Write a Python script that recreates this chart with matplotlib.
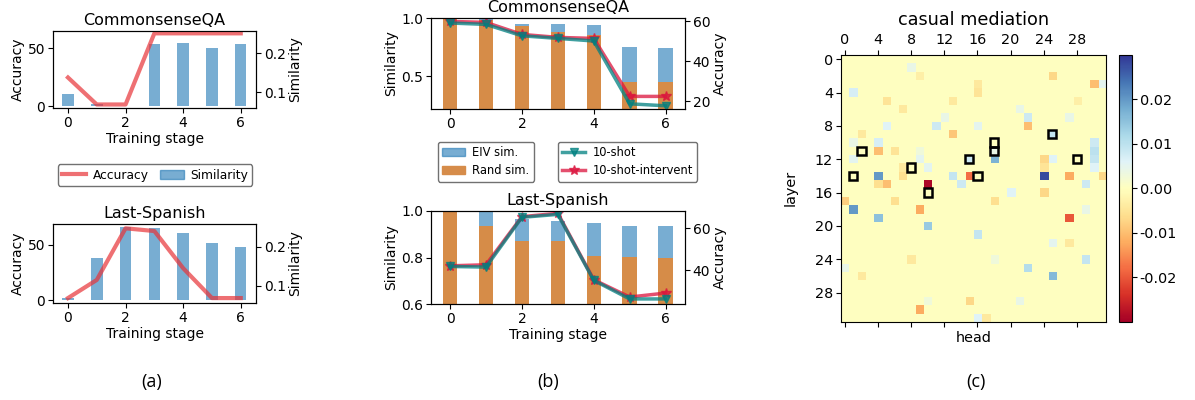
import matplotlib
matplotlib.use("Agg")
import matplotlib.pyplot as plt
import numpy as np
from matplotlib.lines import Line2D
from matplotlib.patches import Patch, Rectangle

# ---- data ----
stages = [0, 1, 2, 3, 4, 5, 6]

# panel (a): bars on left axis, line on right axis
a_csqa_bars = [10.6, 2.3, 0.0, 53.4, 54.3, 50.6, 53.4]
a_csqa_line = [0.138, 0.069, 0.069, 0.251, 0.251, 0.251, 0.251]
a_span_bars = [2.1, 38.6, 65.9, 65.0, 61.0, 52.0, 48.5]
a_span_line = [0.0686, 0.115, 0.247, 0.240, 0.145, 0.0686, 0.0686]

# panel (b)
b_csqa_eiv = [1.0, 0.99, 0.951, 0.949, 0.937, 0.751, 0.743]
b_csqa_rand = [1.0, 0.98, 0.93, 0.877, 0.851, 0.449, 0.449]
b_csqa_shot = [59.2, 58.5, 52.8, 51.5, 50.2, 18.8, 17.8]
b_csqa_int = [60.0, 59.5, 53.5, 52.0, 51.5, 22.5, 22.5]
b_span_eiv = [1.0, 1.0, 0.964, 0.959, 0.947, 0.937, 0.937]
b_span_rand = [1.0, 0.937, 0.873, 0.873, 0.807, 0.801, 0.80]
b_span_shot = [41.9, 41.6, 65.2, 66.6, 35.3, 26.5, 26.5]
b_span_int = [42.2, 42.7, 65.5, 67.1, 35.6, 27.4, 29.3]

# panel (c): 32x32 layer/head map, listed non-zero cells
cell_rows = [15, 14, 14, 14, 14, 12, 14, 15, 11, 10, 9, 8, 8, 4, 8, 7, 2, 15, 15, 16,
             15, 16, 3, 3, 10, 11, 12, 13, 14, 12, 12, 13, 12, 9, 4, 8, 1, 17, 18, 19,
             18, 20, 19, 21, 25, 26, 24, 30, 31, 31, 29, 29, 29, 22, 22, 24, 17, 17, 25, 26,
             24, 18, 12, 13, 14, 13, 11, 5, 5, 6, 7, 3, 2, 6, 9, 10, 11, 12, 7, 5, 11]
cell_cols = [10, 24, 4, 15, 27, 18, 13, 14, 4, 4, 13, 11, 5, 1, 22, 22, 25, 5, 4, 24,
             29, 20, 30, 31, 30, 30, 30, 30, 31, 25, 24, 24, 15, 25, 16, 16, 8, 0, 1, 4,
             9, 10, 27, 16, 22, 25, 29, 9, 16, 17, 15, 21, 10, 25, 27, 18, 6, 18, 0, 2,
             8, 29, 9, 7, 7, 10, 9, 5, 13, 21, 12, 16, 9, 7, 2, 1, 6, 1, 27, 28, 18]
cell_vals = [-0.029, 0.028, 0.020, -0.018, -0.012, 0.017, 0.009, 0.008, -0.010, 0.007,
             -0.009, 0.008, 0.006, 0.007, -0.010, 0.008, -0.007, -0.010, -0.006, -0.007,
             0.008, 0.006, -0.010, 0.005, 0.008, 0.010, 0.009, 0.006, -0.007, 0.006,
             -0.007, -0.005, 0.008, 0.009, -0.005, 0.005, 0.004, -0.008, 0.020, 0.015,
             -0.012, 0.014, -0.020, 0.009, 0.011, 0.016, 0.009, -0.012, 0.006, -0.004,
             -0.007, 0.004, 0.003, 0.005, -0.004, 0.003, -0.006, -0.006, 0.004, -0.004,
             -0.004, 0.004, 0.005, -0.004, -0.006, 0.005, 0.003, -0.005, -0.004, 0.004,
             0.004, -0.004, -0.003, -0.004, -0.004, 0.004, -0.005, 0.005, 0.004, -0.003, 0.004]
box_rows = [11, 14, 13, 16, 12, 14, 10, 11, 9, 12]
box_cols = [2, 1, 8, 10, 15, 16, 18, 18, 25, 28]

W, H = 1195, 400


def px_axes(x0, y0, x1, y1):
    return fig.add_axes([x0 / W, 1 - y1 / H, (x1 - x0) / W, (y1 - y0) / H])


fig = plt.figure(figsize=(11.95, 4.0), dpi=100)

# ---- panel (a) ----
red_a = (0.91, 0.2, 0.22, 0.7)


def panel_a(pos, title, bars, line, ylim, ylim2, xlabel=True):
    ax = px_axes(*pos)
    ax.bar(stages, bars, width=0.4, color="tab:blue", alpha=0.6)
    ax.set_ylim(*ylim)
    ax.set_xlim(-0.52, 6.53)
    ax.set_xticks([0, 2, 4, 6])
    ax.set_yticks([0, 50])
    ax.set_ylabel("Accuracy", fontsize=10, labelpad=2)
    ax.tick_params(labelsize=10, length=3.5, pad=2)
    if xlabel:
        ax.set_xlabel("Training stage", fontsize=10, labelpad=2)
    ax.set_title(title, fontsize=11.5, pad=4)
    ax2 = ax.twinx()
    ax2.plot(stages, line, color=red_a, lw=3)
    ax2.set_ylim(*ylim2)
    ax2.set_yticks([0.1, 0.2])
    ax2.set_ylabel("Similarity", fontsize=10, labelpad=2)
    ax2.tick_params(labelsize=10, length=3.5, pad=2)
    return ax


panel_a((53, 31, 256, 108), "CommonsenseQA", a_csqa_bars, a_csqa_line, (-1.4, 64.9), (0.060, 0.257))
panel_a((53, 224, 256, 303), "Last-Spanish", a_span_bars, a_span_line, (-2.4, 68.9), (0.056, 0.258))

fig.legend([Line2D([0], [0], color=red_a, lw=3), Patch(color="tab:blue", alpha=0.6)],
           ["Accuracy", "Similarity"], loc="center", bbox_to_anchor=(155 / W, 1 - 175 / H),
           ncol=2, fontsize=8.8, edgecolor="0.3", handlelength=2.0, columnspacing=0.9,
           borderpad=0.35, handletextpad=0.5)

# ---- panel (b) ----
teal = (0.0, 0.5, 0.5, 0.75)
red_b = (0.86, 0.08, 0.24, 0.75)


def panel_b(pos, title, eiv, rand, shot, inter, ylim, yticks, ylim2, yticks2, xlabel=False):
    ax = px_axes(*pos)
    ax.bar(stages, eiv, width=0.4, color="tab:blue", alpha=0.6)
    ax.bar(stages, rand, width=0.4, color="tab:orange", alpha=0.7)
    ax.set_ylim(*ylim)
    ax.set_yticks(yticks)
    ax.set_xlim(-0.53, 6.54)
    ax.set_xticks([0, 2, 4, 6])
    ax.set_ylabel("Similarity", fontsize=10, labelpad=2)
    ax.tick_params(labelsize=10, length=3.5, pad=2)
    if xlabel:
        ax.set_xlabel("Training stage", fontsize=10, labelpad=2)
    ax.set_title(title, fontsize=11.5, pad=4.5)
    ax2 = ax.twinx()
    ax2.plot(stages, inter, color=red_b, lw=2.5, marker="*", ms=7)
    ax2.plot(stages, shot, color=teal, lw=2.5, marker="v", ms=6)
    ax2.set_ylim(*ylim2)
    ax2.set_yticks(yticks2)
    ax2.set_ylabel("Accuracy", fontsize=10, labelpad=2)
    ax2.tick_params(labelsize=10, length=3.5, pad=2)


panel_b((431, 18, 685, 109), "CommonsenseQA", b_csqa_eiv, b_csqa_rand, b_csqa_shot, b_csqa_int,
        (0.22, 1.0), [0.5, 1.0], (16.2, 61.7), [20, 40, 60])
panel_b((431, 211, 685, 304), "Last-Spanish", b_span_eiv, b_span_rand, b_span_shot, b_span_int,
        (0.6, 1.0), [0.6, 0.8, 1.0], (24.1, 68.2), [40, 60], xlabel=True)

fig.legend([Patch(color="tab:blue", alpha=0.6), Patch(color=(0.84, 0.55, 0.29))],
           ["EIV sim.", "Rand sim."], loc="upper left", bbox_to_anchor=(432 / W, 1 - 136 / H),
           fontsize=8.3, edgecolor="0.3", borderpad=0.4, handletextpad=0.6, labelspacing=0.4)
fig.legend([Line2D([0], [0], color=teal, lw=2.5, marker="v", ms=6),
            Line2D([0], [0], color=red_b, lw=2.5, marker="*", ms=7)],
           ["10-shot", "10-shot-intervent"], loc="upper left", bbox_to_anchor=(552 / W, 1 - 136 / H),
           fontsize=8.3, edgecolor="0.3", borderpad=0.4, handletextpad=0.6, labelspacing=0.4)

# ---- panel (c) ----
grid = np.zeros((32, 32))
for r, c, v in zip(cell_rows, cell_cols, cell_vals):
    grid[r, c] = v

axc = px_axes(840.7, 55, 1106, 321.7)
im = axc.imshow(grid, cmap="RdYlBu", vmin=-0.03, vmax=0.03, aspect="auto")
for r, c in zip(box_rows, box_cols):
    axc.add_patch(Rectangle((c - 0.5, r - 0.5), 1, 1, fill=False, edgecolor="black", lw=1.8))
axc.set_xticks(range(0, 32, 4))
axc.set_yticks(range(0, 32, 4))
axc.tick_params(top=True, labeltop=True, bottom=True, labelbottom=False, labelsize=10.4,
                length=3.5, pad=2)
axc.set_xlabel("head", fontsize=10.4, labelpad=3)
axc.set_ylabel("layer", fontsize=10.4, labelpad=12)
axc.set_title("casual mediation", fontsize=12.7, pad=6)

cax = px_axes(1119, 55, 1132, 321.7)
cb = fig.colorbar(im, cax=cax, ticks=[-0.02, -0.01, 0.0, 0.01, 0.02])
cb.ax.tick_params(labelsize=10.4, length=3.5, pad=2)
cb.ax.yaxis.set_major_formatter(matplotlib.ticker.FormatStrFormatter("%.2f"))

# ---- sub labels ----
for x, s in [(152, "(a)"), (548, "(b)"), (976, "(c)")]:
    fig.text(x / W, 1 - 382 / H, s, ha="center", va="center", fontsize=13, family="Open Sans")

fig.savefig("out.png", dpi=100)
